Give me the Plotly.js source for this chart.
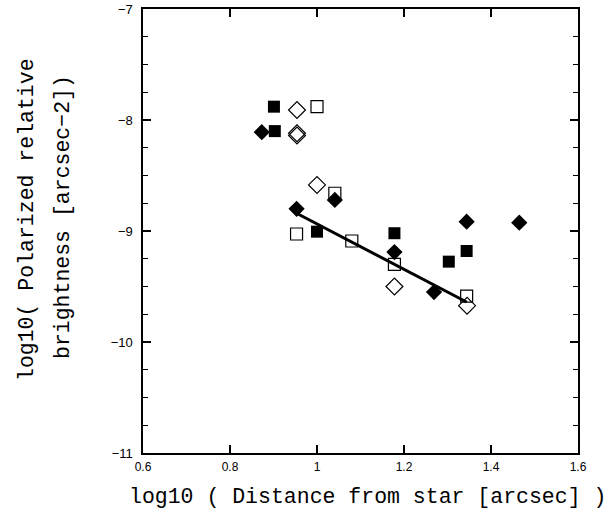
<!DOCTYPE html>
<html>
<head>
<meta charset="utf-8">
<script src="https://cdn.plot.ly/plotly-3.0.1.min.js"></script>
<style>html,body{margin:0;padding:0;background:#fff;}#chart{width:613px;height:514px;}</style>
</head>
<body>
<div id="chart"></div>
<script>
// Filled squares
const fsqX = [0.901, 0.903, 1.000, 1.178, 1.303, 1.344];
const fsqY = [-7.88, -8.10, -9.006, -9.02, -9.276, -9.18];
// Open squares
const osqX = [1.000, 1.041, 0.953, 1.080, 1.178, 1.344];
const osqY = [-7.88, -8.66, -9.027, -9.09, -9.30, -9.586];
// Filled diamonds
const fdiX = [0.873, 1.041, 0.953, 1.178, 1.269, 1.344, 1.465];
const fdiY = [-8.11, -8.72, -8.80, -9.19, -9.55, -8.916, -8.925];
// Open diamonds
const odiX = [0.954, 0.954, 0.954, 1.000, 1.178, 1.345];
const odiY = [-7.91, -8.12, -8.14, -8.585, -9.50, -9.673];
// Fit line
const fitX = [0.953, 1.344];
const fitY = [-8.84, -9.64];

const xTickVals = [0.6, 0.8, 1.0, 1.2, 1.4, 1.6];
const xTickText = ['0.6', '0.8', '1', '1.2', '1.4', '1.6'];
const yTickVals = [-11, -10, -9, -8, -7];
const yTickText = ['\u221211', '\u221210', '\u22129', '\u22128', '\u22127'];

const xTitle = 'log10 ( Distance from star [arcsec] )';
const yTitle1 = 'log10( Polarized relative';
const yTitle2 = 'brightness [arcsec\u22122])';

const traces = [
  {x: fitX, y: fitY, mode: 'lines', line: {color: 'black', width: 3}, hoverinfo: 'skip'},
  {x: osqX, y: osqY, mode: 'markers', marker: {symbol: 'square-open', size: 12, color: 'black', line: {width: 1.2, color: 'black'}}},
  {x: odiX, y: odiY, mode: 'markers', marker: {symbol: 'diamond-open', size: 13, color: 'black', line: {width: 1.2, color: 'black'}}},
  {x: fsqX, y: fsqY, mode: 'markers', marker: {symbol: 'square', size: 12, color: 'black', line: {width: 0}}},
  {x: fdiX, y: fdiY, mode: 'markers', marker: {symbol: 'diamond', size: 12.5, color: 'black', line: {width: 0}}}
];

const xTickFont = {family: 'Liberation Sans, Arial, sans-serif', size: 12, color: 'black'};
const yTickFont = {family: 'Liberation Sans, Arial, sans-serif', size: 13, color: 'black'};
const titleFont = {family: 'Liberation Mono, Courier New, monospace', size: 21.5, color: 'black'};

const layout = {
  width: 613, height: 514,
  margin: {l: 143, r: 35, t: 9, b: 61, pad: 0},
  paper_bgcolor: 'white', plot_bgcolor: 'white',
  showlegend: false,
  xaxis: {
    range: [0.6, 1.6], tickvals: xTickVals, ticktext: xTickText,
    ticks: 'inside', ticklen: 8, tickwidth: 1.3, tickcolor: 'black',
    showline: true, linecolor: 'black', linewidth: 1.6, mirror: 'ticks',
    showgrid: false, zeroline: false, tickfont: xTickFont, ticklabelstandoff: 2
  },
  yaxis: {
    range: [-11, -7], tickvals: yTickVals, ticktext: yTickText,
    ticks: 'inside', ticklen: 8, tickwidth: 1.3, tickcolor: 'black',
    showline: true, linecolor: 'black', linewidth: 1.6, mirror: 'ticks',
    showgrid: false, zeroline: false, tickfont: yTickFont, ticklabelstandoff: 6,
    minor: {dtick: 0.25, ticks: 'inside', ticklen: 5, tickwidth: 1, tickcolor: 'black', showgrid: false}
  },
  annotations: [
    {text: xTitle, xref: 'paper', yref: 'paper', x: 0.5, y: 0, xanchor: 'center', yanchor: 'middle', xshift: 7, yshift: -44, showarrow: false, font: titleFont},
    {text: yTitle1, xref: 'paper', yref: 'paper', x: 0, y: 0.5, xanchor: 'center', yanchor: 'middle', xshift: -116, yshift: 11, textangle: -90, showarrow: false, font: titleFont},
    {text: yTitle2, xref: 'paper', yref: 'paper', x: 0, y: 0.5, xanchor: 'center', yanchor: 'middle', xshift: -80, yshift: 14, textangle: -90, showarrow: false, font: titleFont}
  ]
};

Plotly.newPlot('chart', traces, layout, {displayModeBar: false, staticPlot: true});
</script>
</body>
</html>
